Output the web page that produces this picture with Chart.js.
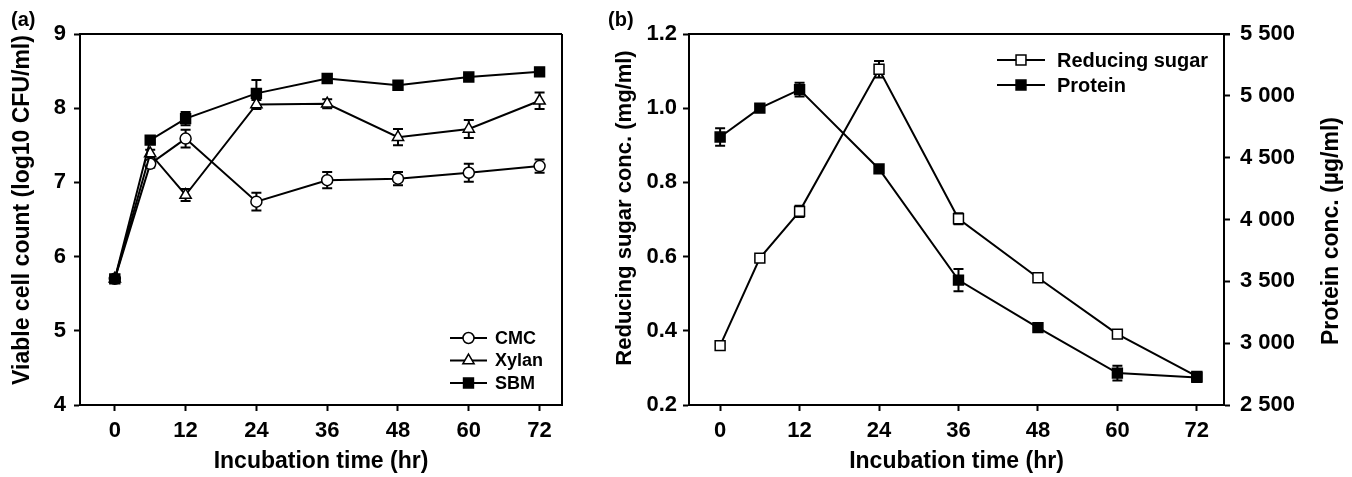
<!DOCTYPE html>
<html>
<head>
<meta charset="utf-8">
<script src="https://cdn.jsdelivr.net/npm/chart.js@4.4.1/dist/chart.umd.min.js"></script>
<style>
  body { margin: 0; background: #fff; width: 1352px; height: 477px; overflow: hidden; position: relative; font-family: "Liberation Sans", Arial, sans-serif; }
  .panel { position: absolute; top: 0; height: 477px; }
  #boxA { left: 0; width: 600px; }
  #boxB { left: 600px; width: 752px; }
  .tag { position: absolute; top: 8px; font-size: 20px; font-weight: bold; color: #000; }
</style>
</head>
<body>
<div class="panel" id="boxA"><canvas id="chartA"></canvas></div>
<div class="panel" id="boxB"><canvas id="chartB"></canvas></div>
<div class="tag" style="left:11px">(a)</div>
<div class="tag" style="left:608px">(b)</div>
<script>
// sampling times (hr) and x tick labels
const hours = [0, 6, 12, 24, 36, 48, 60, 72];
const xTicks = [0, 12, 24, 36, 48, 60, 72];

// (a) viable cell count, log10 CFU/ml
const cmc = [5.70, 7.25, 7.59, 6.74, 7.03, 7.05, 7.13, 7.22];
const cmcErr = [0.05, 0.05, 0.12, 0.12, 0.11, 0.09, 0.12, 0.09];
const xylan = [5.70, 7.39, 6.83, 8.05, 8.06, 7.61, 7.72, 8.10];
const xylanErr = [0.05, 0.05, 0.08, 0.06, 0.06, 0.11, 0.12, 0.11];
const sbm = [5.70, 7.57, 7.86, 8.20, 8.40, 8.31, 8.42, 8.49];
const sbmErr = [0.05, 0.04, 0.09, 0.18, 0.06, 0.03, 0.03, 0.03];
const viableTicks = [4, 5, 6, 7, 8, 9];

// (b) reducing sugar (mg/ml) and protein (ug/ml)
const sugar = [0.360, 0.596, 0.722, 1.105, 0.702, 0.543, 0.391, 0.277];
const sugarErr = [0.008, 0.006, 0.015, 0.022, 0.015, 0.008, 0.008, 0.006];
const protein = [4667, 4901, 5050, 4409, 3510, 3126, 2758, 2723];
const proteinErr = [70, 20, 55, 20, 90, 25, 60, 15];
const sugarTicks = [0.2, 0.4, 0.6, 0.8, 1.0, 1.2];
const proteinTicks = [2500, 3000, 3500, 4000, 4500, 5000, 5500];

Chart.defaults.font.family = '"Liberation Sans", Arial, sans-serif';
Chart.defaults.color = '#000';

const pts = arr => arr.map((v, i) => ({ x: hours[i], y: v }));

function marker(ctx, ds, x, y) {
  const r = ds.pointRadius;
  ctx.beginPath();
  if (ds.pointStyle === 'circle') {
    ctx.arc(x, y, r, 0, Math.PI * 2);
  } else if (ds.pointStyle === 'triangle') {
    for (let k = 0; k < 3; k++) {
      const a = k * 2 * Math.PI / 3;
      const px = x + Math.sin(a) * r, py = y - Math.cos(a) * r;
      k ? ctx.lineTo(px, py) : ctx.moveTo(px, py);
    }
    ctx.closePath();
  } else {
    const s = r * Math.SQRT1_2;
    ctx.rect(x - s, y - s, 2 * s, 2 * s);
  }
  ctx.fillStyle = ds.pointBackgroundColor;
  ctx.fill();
  ctx.lineWidth = ds.pointBorderWidth;
  ctx.strokeStyle = '#000';
  ctx.stroke();
}

const errorBars = {
  id: 'errorBars',
  beforeDatasetsDraw(chart) {
    const ctx = chart.ctx;
    ctx.save();
    ctx.strokeStyle = '#000';
    ctx.lineWidth = 2;
    chart.data.datasets.forEach((ds, i) => {
      if (!ds.errors) return;
      const meta = chart.getDatasetMeta(i);
      const ys = chart.scales[meta.yAxisID];
      meta.data.forEach((pt, j) => {
        const v = ds.data[j].y, e = ds.errors[j];
        const top = ys.getPixelForValue(v + e), bot = ys.getPixelForValue(v - e);
        ctx.beginPath();
        ctx.moveTo(pt.x, top); ctx.lineTo(pt.x, bot);
        ctx.moveTo(pt.x - 5, top); ctx.lineTo(pt.x + 5, top);
        ctx.moveTo(pt.x - 5, bot); ctx.lineTo(pt.x + 5, bot);
        ctx.stroke();
      });
    });
    ctx.restore();
  }
};

const frame = {
  id: 'frame',
  afterDraw(chart, args, opts) {
    const { left, right, top, bottom } = chart.chartArea;
    const ctx = chart.ctx;
    ctx.save();
    ctx.strokeStyle = '#000';
    ctx.lineWidth = 2;
    ctx.beginPath();
    ctx.moveTo(left - 1, top);
    ctx.lineTo(right + (opts.extend || 0), top);
    if (opts.rightSide) { ctx.moveTo(right, top); ctx.lineTo(right, bottom + 1); }
    ctx.stroke();
    ctx.restore();
  }
};

// vertical axis titles, all reading bottom to top
const sideTitles = {
  id: 'sideTitles',
  afterDraw(chart, args, opts) {
    const ctx = chart.ctx;
    (opts.items || []).forEach(t => {
      ctx.save();
      ctx.translate(t.x, t.y);
      ctx.rotate(-Math.PI / 2);
      ctx.fillStyle = '#000';
      ctx.font = 'bold ' + t.size + 'px "Liberation Sans", Arial, sans-serif';
      ctx.textAlign = 'center';
      ctx.textBaseline = 'middle';
      ctx.fillText(t.text, 0, 0);
      ctx.restore();
    });
  }
};

const insetLegend = {
  id: 'insetLegend',
  afterDraw(chart, args, opts) {
    const ctx = chart.ctx;
    ctx.save();
    chart.data.datasets.forEach((ds, i) => {
      const y = opts.y + i * opts.gap;
      ctx.strokeStyle = '#000';
      ctx.lineWidth = 2;
      ctx.beginPath();
      ctx.moveTo(opts.x, y);
      ctx.lineTo(opts.x + opts.lineLen, y);
      ctx.stroke();
      marker(ctx, ds, opts.x + opts.lineLen / 2, y);
      ctx.fillStyle = '#000';
      ctx.font = 'bold ' + opts.size + 'px "Liberation Sans", Arial, sans-serif';
      ctx.textBaseline = 'middle';
      ctx.fillText(ds.label, opts.x + opts.lineLen + opts.textGap, y + 1);
    });
    ctx.restore();
  }
};

function xAxis() {
  return {
    type: 'linear',
    afterBuildTicks: s => { s.ticks = xTicks.map(v => ({ value: v })); },
    afterFit: s => { s.height = 72; },
    grid: { drawOnChartArea: false, drawTicks: true, tickLength: 6, tickWidth: 2, tickColor: '#000' },
    border: { display: true, color: '#000', width: 2 },
    ticks: { font: { size: 22, weight: 'bold' }, padding: 7, maxRotation: 0 },
    title: { display: true, text: 'Incubation time (hr)', font: { size: 23, weight: 'bold' }, padding: { top: 0, bottom: 2 } }
  };
}

function yAxis(pos, tickVals, width, labelPad, fmt) {
  return {
    type: 'linear',
    position: pos,
    min: tickVals[0],
    max: tickVals[tickVals.length - 1],
    afterBuildTicks: s => { s.ticks = tickVals.map(v => ({ value: v })); },
    afterFit: s => { s.width = width; },
    grid: { drawOnChartArea: false, drawTicks: true, tickLength: 6, tickWidth: 2, tickColor: '#000' },
    border: { display: true, color: '#000', width: 2 },
    ticks: { font: { size: 22, weight: 'bold' }, padding: labelPad, callback: fmt },
    title: { display: false }
  };
}

const lineStyle = { borderColor: '#000', borderWidth: 2, tension: 0, pointBorderColor: '#000', pointBorderWidth: 1.5, pointHoverRadius: 0 };

// (a)
const xa = xAxis();
xa.min = -5.9; xa.max = 75.8;
new Chart(document.getElementById('chartA'), {
  type: 'line',
  data: {
    datasets: [
      { ...lineStyle, label: 'CMC', data: pts(cmc), errors: cmcErr, pointStyle: 'circle', pointRadius: 5.5, pointBackgroundColor: '#fff', order: 2 },
      { ...lineStyle, label: 'Xylan', data: pts(xylan), errors: xylanErr, pointStyle: 'triangle', pointRadius: 6.5, pointBackgroundColor: '#fff', order: 1 },
      { ...lineStyle, label: 'SBM', data: pts(sbm), errors: sbmErr, pointStyle: 'rect', pointRadius: 7, pointBackgroundColor: '#000', order: 0 }
    ]
  },
  options: {
    responsive: true,
    maintainAspectRatio: false,
    animation: false,
    layout: { padding: { top: 34, right: 38, left: 0, bottom: 0 } },
    scales: {
      x: xa,
      y: yAxis('left', viableTicks, 80, 8, v => String(v))
    },
    plugins: {
      legend: { display: false },
      tooltip: { enabled: false },
      frame: { rightSide: true, extend: 0 },
      sideTitles: { items: [{ text: 'Viable cell count (log10 CFU/ml)', x: 23, y: 210, size: 23 }] },
      insetLegend: { x: 450, y: 338, gap: 22.5, lineLen: 37, textGap: 8, size: 18 }
    }
  },
  plugins: [errorBars, frame, sideTitles, insetLegend]
});

// (b)
const xb = xAxis();
xb.min = -4.7; xb.max = 76.1;
new Chart(document.getElementById('chartB'), {
  type: 'line',
  data: {
    datasets: [
      { ...lineStyle, label: 'Reducing sugar', data: pts(sugar), errors: sugarErr, yAxisID: 'y', pointStyle: 'rect', pointRadius: 7, pointBackgroundColor: '#fff', order: 1 },
      { ...lineStyle, label: 'Protein', data: pts(protein), errors: proteinErr, yAxisID: 'y2', pointStyle: 'rect', pointRadius: 7, pointBackgroundColor: '#000', order: 0 }
    ]
  },
  options: {
    responsive: true,
    maintainAspectRatio: false,
    animation: false,
    layout: { padding: { top: 34, right: 0, left: 0, bottom: 0 } },
    scales: {
      x: xb,
      y: yAxis('left', sugarTicks, 89, 6, v => v.toFixed(1)),
      y2: yAxis('right', proteinTicks, 128, 10, v => String(v).replace(/\B(?=(\d{3})+(?!\d))/g, ' '))
    },
    plugins: {
      legend: { display: false },
      tooltip: { enabled: false },
      frame: { rightSide: false, extend: 6 },
      sideTitles: { items: [
        { text: 'Reducing sugar conc. (mg/ml)', x: 25, y: 208, size: 22 },
        { text: 'Protein conc. (µg/ml)', x: 732, y: 231, size: 23 }
      ] },
      insetLegend: { x: 397, y: 60, gap: 25, lineLen: 48, textGap: 12, size: 20 }
    }
  },
  plugins: [errorBars, frame, sideTitles, insetLegend]
});
</script>
</body>
</html>
